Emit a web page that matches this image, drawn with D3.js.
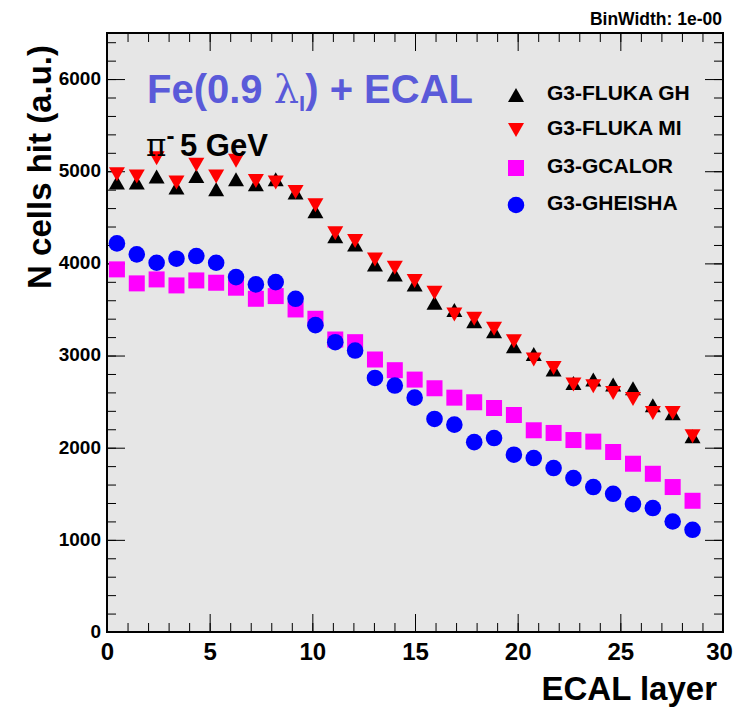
<!DOCTYPE html>
<html>
<head>
<meta charset="utf-8">
<script src="https://cdn.jsdelivr.net/npm/d3@7"></script>
<style>
  body { margin: 0; background: #fff; }
  svg { display: block; font-family: "Liberation Sans", Arial, Helvetica, sans-serif; font-weight: bold; }
</style>
</head>
<body>
<div id="chart"></div>
<script>
// 30 ECAL layers, histogram bins spread over [0, 29]
const nLayers = 30;
const layerMax = 29;
const layers = d3.range(nLayers);

// N cells hit per layer
const flukaGH = [4877, 4877, 4942, 4823, 4949, 4804, 4913, 4859, 4913, 4768,
                 4565, 4295, 4206, 3989, 3880, 3772, 3572, 3493, 3373, 3264,
                 3101, 3018, 2848, 2703, 2739, 2685, 2645, 2460, 2375, 2123];
const flukaMI = [4967, 4942, 5140, 4877, 5070, 4942, 5115, 4895, 4877, 4775,
                 4630, 4326, 4243, 4043, 3953, 3808, 3681, 3446, 3399, 3290,
                 3156, 2957, 2866, 2685, 2667, 2594, 2529, 2377, 2377, 2123];
const gcalor  = [3935, 3783, 3826, 3761, 3815, 3790, 3736, 3616, 3645, 3500,
                 3399, 3174, 3145, 2957, 2841, 2739, 2645, 2543, 2493, 2431,
                 2355, 2189, 2160, 2083, 2066, 1953, 1826, 1717, 1573, 1424];
const gheisha = [4217, 4098, 4007, 4051, 4080, 4007, 3851, 3772, 3797, 3616,
                 3330, 3145, 3054, 2757, 2674, 2543, 2312, 2250, 2060, 2105,
                 1924, 1888, 1779, 1670, 1573, 1500, 1388, 1345, 1199, 1109];

const seriesNames = ["G3-FLUKA GH", "G3-FLUKA MI", "G3-GCALOR", "G3-GHEISHA"];
const xTicks = [0, 5, 10, 15, 20, 25, 30];
const yTicks = [0, 1000, 2000, 3000, 4000, 5000, 6000];

const width = 735, height = 710;
const m = { left: 107, right: 723, top: 33, bottom: 632 };

const x = d3.scaleLinear().domain([0, 30]).range([m.left, m.right]);
const y = d3.scaleLinear().domain([0, 6500]).range([m.bottom, m.top]);
const binW = layerMax / nLayers;
const xc = i => x((i + 0.5) * binW);

const svg = d3.select("#chart").append("svg")
  .attr("width", width)
  .attr("height", height);

// frame background
svg.append("rect")
  .attr("x", m.left).attr("y", m.top)
  .attr("width", m.right - m.left).attr("height", m.bottom - m.top)
  .attr("fill", "#e6e6e6");

// axes (ticks pointing inward)
function styleAxis(g) {
  g.select(".domain").remove();
  g.selectAll(".tick line").attr("stroke", "#000").attr("stroke-width", 1);
  g.selectAll("text").attr("fill", "#000");
}
const minorX = d3.range(0, 31, 1);
const minorY = d3.range(0, 6501, 200);

svg.append("g").attr("transform", `translate(0,${m.bottom})`)
  .call(d3.axisBottom(x).tickValues(minorX).tickSize(-9).tickFormat(""))
  .call(styleAxis);
svg.append("g").attr("transform", `translate(0,${m.bottom})`)
  .call(d3.axisBottom(x).tickValues(xTicks).tickSize(-18).tickPadding(11).tickFormat(d3.format("d")))
  .call(styleAxis)
  .selectAll("text").attr("font-size", 24)
  .attr("dx", d => d === 30 ? -4 : 0); // keep the last label inside the page

svg.append("g").attr("transform", `translate(0,${m.top})`)
  .call(d3.axisTop(x).tickValues(minorX).tickSize(-9).tickFormat(""))
  .call(styleAxis);
svg.append("g").attr("transform", `translate(0,${m.top})`)
  .call(d3.axisTop(x).tickValues(xTicks).tickSize(-18).tickFormat(""))
  .call(styleAxis);

svg.append("g").attr("transform", `translate(${m.left},0)`)
  .call(d3.axisLeft(y).tickValues(minorY).tickSize(-9).tickFormat(""))
  .call(styleAxis);
svg.append("g").attr("transform", `translate(${m.left},0)`)
  .call(d3.axisLeft(y).tickValues(yTicks).tickSize(-18).tickPadding(6).tickFormat(d3.format("d")))
  .call(styleAxis)
  .selectAll("text").attr("font-size", 19).attr("dy", "0.28em");

svg.append("g").attr("transform", `translate(${m.right},0)`)
  .call(d3.axisRight(y).tickValues(minorY).tickSize(-9).tickFormat(""))
  .call(styleAxis);
svg.append("g").attr("transform", `translate(${m.right},0)`)
  .call(d3.axisRight(y).tickValues(yTicks).tickSize(-18).tickFormat(""))
  .call(styleAxis);

// frame border
svg.append("rect")
  .attr("x", m.left).attr("y", m.top)
  .attr("width", m.right - m.left).attr("height", m.bottom - m.top)
  .attr("fill", "none").attr("stroke", "#000").attr("stroke-width", 2);

// markers
const triUp = "M0,-7L8,7L-8,7Z";
const triDown = "M0,7L8,-7L-8,-7Z";
const square = d3.symbol(d3.symbolSquare, 256)();
const circle = d3.symbol(d3.symbolCircle, 216)();

const series = [
  { name: seriesNames[0], values: flukaGH, path: triUp, color: "#000000" },
  { name: seriesNames[1], values: flukaMI, path: triDown, color: "#ff0000" },
  { name: seriesNames[2], values: gcalor, path: square, color: "#ff00ff" },
  { name: seriesNames[3], values: gheisha, path: circle, color: "#0000ff" }
];

series.forEach(s => {
  svg.append("g")
    .selectAll("path")
    .data(layers)
    .join("path")
    .attr("d", s.path)
    .attr("fill", s.color)
    .attr("transform", i => `translate(${xc(i)},${y(s.values[i])})`);
});

// legend
const legY = [95, 130, 168, 205];
const leg = svg.append("g");
series.forEach((s, i) => {
  leg.append("path").attr("d", s.path).attr("fill", s.color)
    .attr("transform", `translate(516,${legY[i]})`);
  leg.append("text")
    .attr("x", 547).attr("y", legY[i] + 5)
    .attr("font-size", 21).attr("fill", "#000")
    .text(s.name);
});

// title
const title = svg.append("text")
  .attr("x", 147).attr("y", 103)
  .attr("font-size", 40).attr("fill", "#5a5ad9");
title.append("tspan").text("Fe(0.9 ");
title.append("tspan").attr("font-family", "'DejaVu Serif', serif").attr("font-weight", "normal").text("λ");
title.append("tspan").attr("font-size", 22).attr("dy", 8).text("I");
title.append("tspan").attr("dy", -8).text(") + ECAL");

const beam = svg.append("text")
  .attr("x", 146).attr("y", 156)
  .attr("font-size", 31).attr("fill", "#000");
beam.append("tspan").attr("font-family", "'DejaVu Serif', serif").attr("font-weight", "normal").text("π");
beam.append("tspan").attr("font-size", 24).attr("dy", -12).text("-");
beam.append("tspan").attr("x", 180).attr("dy", 12).text("5 GeV");

svg.append("text")
  .attr("x", 722).attr("y", 25)
  .attr("text-anchor", "end")
  .attr("font-size", 17.5).attr("fill", "#000")
  .text("BinWidth: 1e-00");

// axis titles
svg.append("text")
  .attr("x", 717).attr("y", 700)
  .attr("text-anchor", "end")
  .attr("font-size", 33).attr("fill", "#000")
  .text("ECAL layer");

svg.append("text")
  .attr("transform", "translate(51,45) rotate(-90)")
  .attr("text-anchor", "end")
  .attr("font-size", 33).attr("fill", "#000")
  .text("N cells hit (a.u.)");
</script>
</body>
</html>
